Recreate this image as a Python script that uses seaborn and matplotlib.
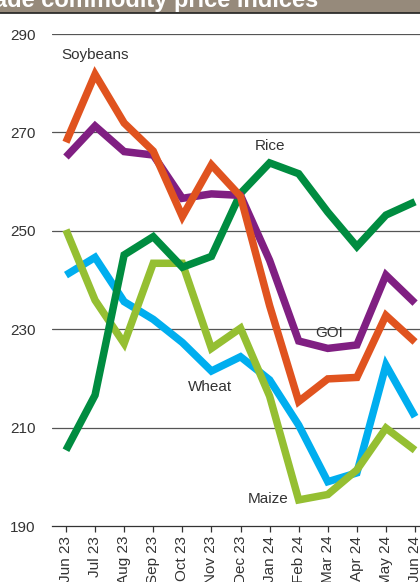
import pandas as pd
import seaborn as sns
import matplotlib.pyplot as plt
from matplotlib.patches import Rectangle

months = ["Jun 23", "Jul 23", "Aug 23", "Sep 23", "Oct 23", "Nov 23", "Dec 23",
          "Jan 24", "Feb 24", "Mar 24", "Apr 24", "May 24", "Jun 24"]

wheat = [241.0, 244.6, 235.6, 232.0, 227.3, 221.5, 224.4, 219.7, 210.5, 199.0, 200.8, 222.7, 212.2]
maize = [250.2, 235.9, 227.1, 243.4, 243.4, 226.1, 230.2, 216.4, 195.3, 196.4, 201.4, 209.9, 205.4]
rice = [205.4, 216.6, 245.1, 248.8, 242.6, 244.8, 257.6, 263.8, 261.6, 253.8, 246.8, 253.2, 255.9]
goi = [265.0, 271.3, 266.1, 265.4, 256.6, 257.5, 257.2, 244.0, 227.6, 226.1, 226.8, 241.0, 235.3]
soybeans = [268.0, 281.8, 271.9, 266.2, 252.9, 263.4, 257.0, 234.8, 215.3, 219.9, 220.2, 232.8, 227.4]

series = ["Wheat", "Maize", "Rice", "GOI", "Soybeans"]
colors = ["#00aeef", "#95bf32", "#008c40", "#801f82", "#e0531f"]

df = pd.concat([
    pd.DataFrame({"month": range(len(months)), "index": vals, "series": name})
    for name, vals in zip(series, [wheat, maize, rice, goi, soybeans])
])

sns.set_style("white")
plt.rcParams["font.family"] = ["Liberation Sans", "DejaVu Sans"]

fig = plt.figure(figsize=(4.2, 5.82), dpi=100)
ax = fig.add_axes([52 / 420, 56 / 582, 1 - 52 / 420, 492 / 582])

sns.lineplot(data=df, x="month", y="index", hue="series", hue_order=series,
             palette=colors, linewidth=5.4, legend=False, ax=ax,
             solid_joinstyle="miter", solid_capstyle="butt", clip_on=False)

ax.set_xlim(-0.48, 12.17)
ax.set_ylim(190, 290)
ax.set_yticks([190, 210, 230, 250, 270, 290])
for y in [210, 230, 250, 270, 290]:
    ax.axhline(y, color="#555555", lw=0.9, zorder=0)
ax.set_xticks(range(len(months)))
ax.set_xticklabels(months, rotation=90)
ax.tick_params(axis="x", length=4, width=0.9, color="#333333", labelsize=11,
               labelcolor="#333333", pad=3, bottom=True)
ax.tick_params(axis="y", length=0, labelsize=11, labelcolor="#333333", pad=12)
ax.set_xlabel("")
ax.set_ylabel("")
for s in ["left", "right", "top"]:
    ax.spines[s].set_visible(False)
ax.spines["bottom"].set_color("#333333")
ax.spines["bottom"].set_linewidth(0.9)

labels = [("Soybeans", 1.0, 285.7), ("Rice", 7.0, 267.3), ("GOI", 9.05, 229.3),
          ("Wheat", 4.95, 218.3), ("Maize", 6.95, 195.4)]
for text, x, y in labels:
    ax.text(x, y, text, ha="center", va="center", fontsize=11, color="#333333")

# title band
fig.patches.append(Rectangle((0, 570 / 582), 1, 12 / 582, transform=fig.transFigure,
                             color="#968a7b", zorder=0))
fig.lines.append(plt.Line2D([0, 1], [569 / 582, 569 / 582], transform=fig.transFigure,
                            color="#222222", lw=1.2))
fig.text(318 / 420, 575 / 582, "IGC trade commodity price indices", ha="right",
         va="baseline", fontsize=17, fontweight="bold", color="white")

fig.savefig("out.png", dpi=100)
